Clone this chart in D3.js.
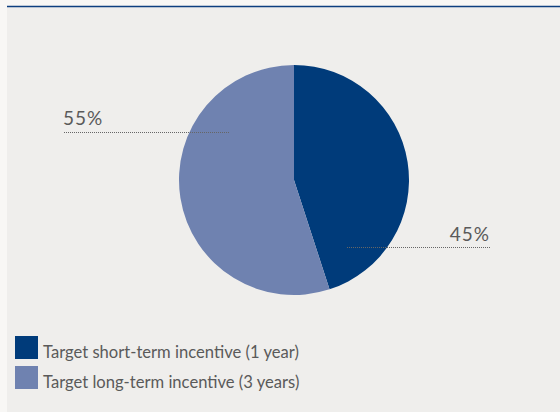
<!DOCTYPE html>
<html><head><meta charset="utf-8">
<script src="https://cdn.jsdelivr.net/npm/d3@7"></script>
<style>
html,body{margin:0;padding:0;background:#f8f7f5;}
svg{display:block;}
</style></head>
<body>
<svg id="c" width="560" height="412"></svg>
<script>
const categories = ["Target short-term incentive (1 year)", "Target long-term incentive (3 years)"];
const values = [45, 55];
const labels = ["45%", "55%"];
const colors = ["#003b7a", "#6f82b0"];

const svg = d3.select("#c");
svg.append("rect").attr("x",7).attr("y",7).attr("width",553).attr("height",405).attr("fill","#efeeec");
svg.append("line").attr("x1",7).attr("x2",560).attr("y1",6.5).attr("y2",6.5).attr("stroke","#0d3f7f").attr("stroke-width",1.5);

const cx = 294, cy = 180, r = 115;
const pie = d3.pie().sort(null).value(d => d)(values);
const arc = d3.arc().innerRadius(0).outerRadius(r);
const g = svg.append("g").attr("transform",`translate(${cx},${cy})`);
g.selectAll("path").data(pie).enter().append("path")
  .attr("d", arc).attr("fill", (d,i) => colors[i]);

const font = "Lato, 'Open Sans', sans-serif";
// leader lines & labels
const leaders = [
  {x1:347, x2:490, y:247.5, tx:490, ty:241, anchor:"end"},
  {x1:64, x2:230, y:132.5, tx:63, ty:124.5, anchor:"start"}
];
leaders.forEach((l,i) => {
  svg.append("line").attr("x1",l.x1).attr("x2",l.x2).attr("y1",l.y).attr("y2",l.y)
    .attr("stroke","#666").attr("stroke-width",1).attr("stroke-dasharray","1,1");
  svg.append("text").attr("x",l.tx).attr("y",l.ty).attr("text-anchor",l.anchor)
    .attr("font-family",font).attr("font-size",19).attr("fill","#5a5a5a")
    .attr("letter-spacing","1").text(labels[i]);
});

// legend
const lg = svg.append("g");
categories.forEach((c,i) => {
  const y = 336 + i*30;
  lg.append("rect").attr("x",15).attr("y",y).attr("width",23).attr("height",23).attr("fill",colors[i]);
  lg.append("text").attr("x",43).attr("y",y+22.3).attr("font-family",font)
    .attr("font-size",16.6).attr("fill","#5a5a5a").text(c);
});
</script>
</body></html>
